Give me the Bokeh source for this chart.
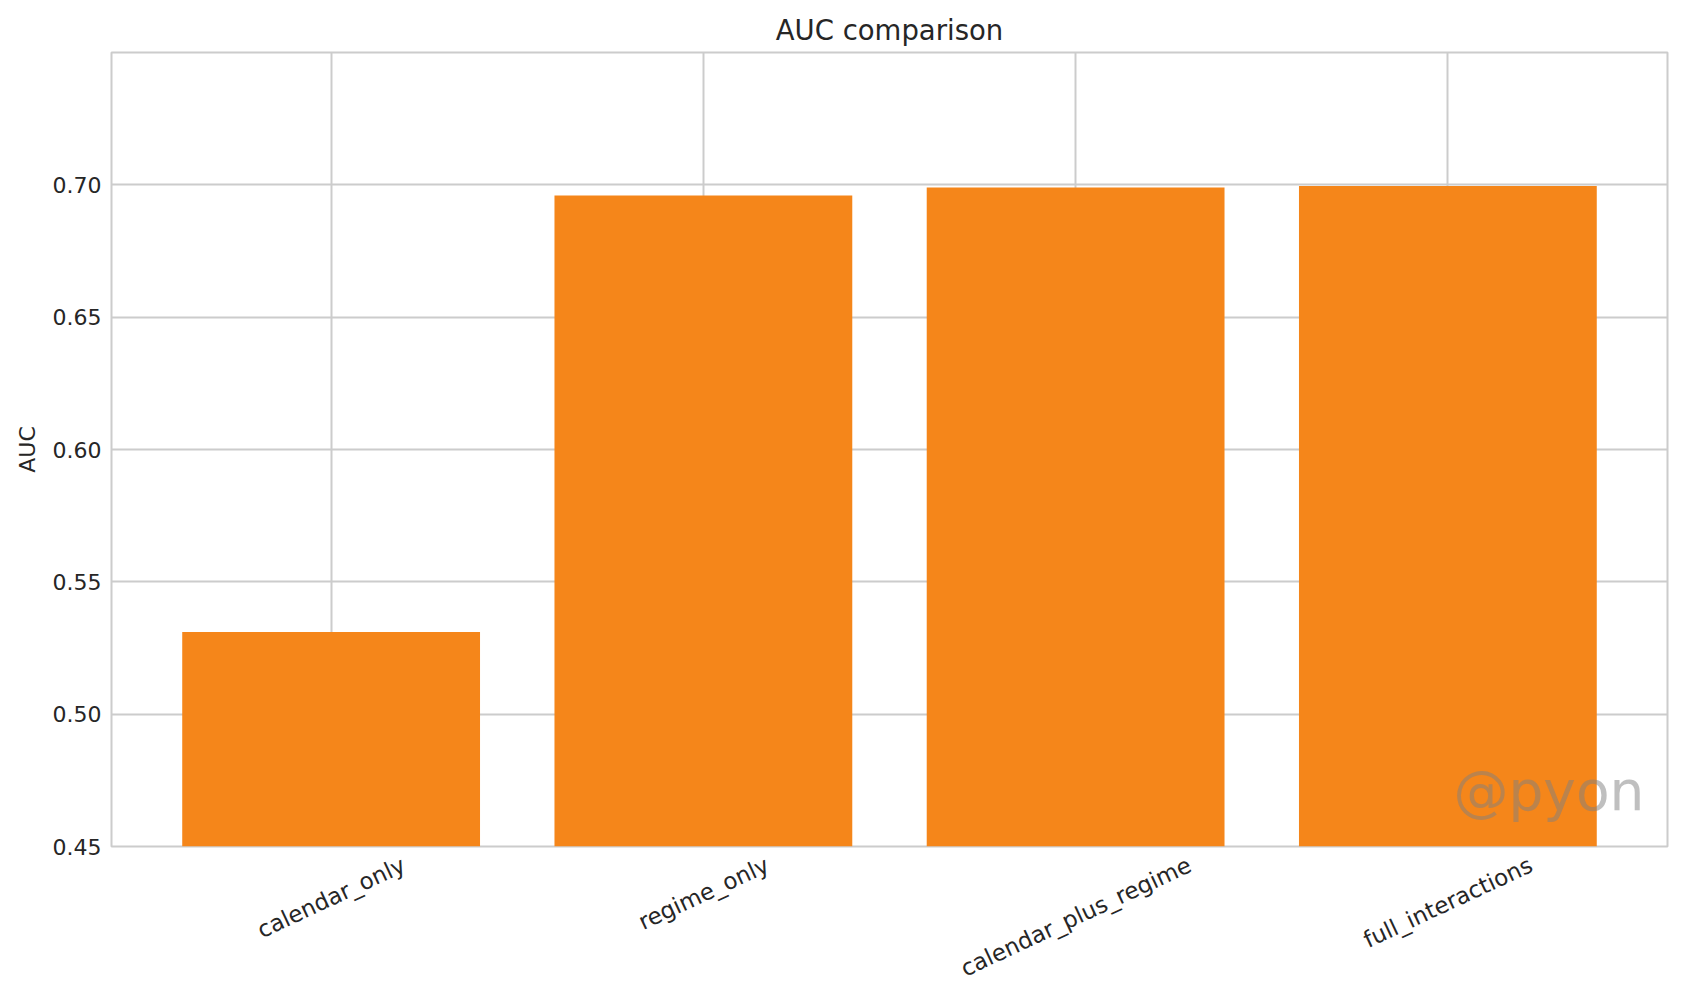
import math

from bokeh.embed import file_html
from bokeh.models import FixedTicker, Label, NumeralTickFormatter, Range1d
from bokeh.plotting import figure
from bokeh.resources import INLINE

# datos del grafico
models = ["calendar_only", "regime_only", "calendar_plus_regime", "full_interactions"]
auc = [0.531, 0.696, 0.699, 0.6996]
y_ticks = [0.45, 0.50, 0.55, 0.60, 0.65, 0.70]

FONT = "DejaVu Sans"
TXT = "#262626"
GRID = "#cccccc"
ANG = math.radians(25)
FS = 22
FS_X = 23

W, H = 1675, 996
TOP, BOTTOM, LEFT, RIGHT = 52, 150, 111, 8
Y0, Y1 = 0.45, 0.75
X0, X1 = -0.59, len(models) - 1 + 0.59

# anchos aproximados de DejaVu Sans (em), para centrar las etiquetas giradas
ANCHO = {"a": .613, "c": .550, "d": .635, "e": .615, "f": .352, "g": .635,
         "i": .278, "l": .278, "m": .974, "n": .634, "o": .612, "p": .635,
         "r": .411, "s": .521, "t": .392, "u": .634, "y": .592, "_": .500}

xs = list(range(len(models)))

p = figure(
    width=W,
    height=H,
    output_backend="svg",
    toolbar_location=None,
    x_range=Range1d(X0, X1),
    y_range=Range1d(Y0, Y1),
    min_border_left=LEFT,
    min_border_right=RIGHT,
    min_border_top=TOP,
    min_border_bottom=BOTTOM,
)

# barras
p.vbar(x=xs, top=auc, bottom=Y0, width=0.8, fill_color="#f5861a", line_color=None)

# titulo
p.title.text = "AUC comparison"
p.title.align = "center"
p.title.text_font = FONT
p.title.text_font_size = "27.5px"
p.title.text_font_style = "normal"
p.title.text_color = TXT
p.title.standoff = 13

# eje x: bokeh alinea a la derecha las etiquetas giradas, asi que corro cada
# marca medio ancho de texto para que la etiqueta quede centrada en la barra
px_x = (W - LEFT - RIGHT) / (X1 - X0)
pos = []
for i, m in enumerate(models):
    largo = sum(ANCHO.get(c, 0.6) for c in m) * FS_X
    pos.append(round(i + largo / 2 * math.cos(ANG) / px_x, 4))
p.xgrid.ticker = FixedTicker(ticks=xs)
p.xaxis.ticker = FixedTicker(ticks=pos)
p.xaxis.major_label_overrides = {v: m for v, m in zip(pos, models)}
p.xaxis.major_label_orientation = ANG
p.xaxis.major_label_text_font = FONT
p.xaxis.major_label_text_font_size = f"{FS_X}px"
p.xaxis.major_label_text_color = TXT
p.xaxis.major_label_standoff = 17

# eje y
p.yaxis.ticker = FixedTicker(ticks=y_ticks)
p.yaxis.formatter = NumeralTickFormatter(format="0.00")
p.yaxis.axis_label = "AUC"
p.yaxis.axis_label_text_font = FONT
p.yaxis.axis_label_text_font_size = f"{FS}px"
p.yaxis.axis_label_text_font_style = "normal"
p.yaxis.axis_label_text_color = TXT
p.yaxis.axis_label_standoff = 10
p.yaxis.major_label_text_font = FONT
p.yaxis.major_label_text_font_size = f"{FS}px"
p.yaxis.major_label_text_color = TXT
p.yaxis.major_label_standoff = 10

for ax in (p.xaxis, p.yaxis):
    ax.axis_line_color = None
    ax.major_tick_line_color = None
    ax.minor_tick_line_color = None
    ax.major_tick_out = 0
    ax.major_tick_in = 0

# grilla y borde
p.xgrid.grid_line_color = GRID
p.xgrid.grid_line_width = 2
p.ygrid.grid_line_color = GRID
p.ygrid.grid_line_width = 2
p.outline_line_color = GRID
p.outline_line_width = 2
p.background_fill_color = "white"
p.border_fill_color = "white"

# marca de agua
p.add_layout(Label(
    x=3.528, y=0.471, text="@pyon",
    text_font=FONT, text_font_size="55px",
    text_color="#808080", text_alpha=0.5,
    text_align="right", text_baseline="alphabetic",
))

open("out.html", "w").write(file_html(p, INLINE))
